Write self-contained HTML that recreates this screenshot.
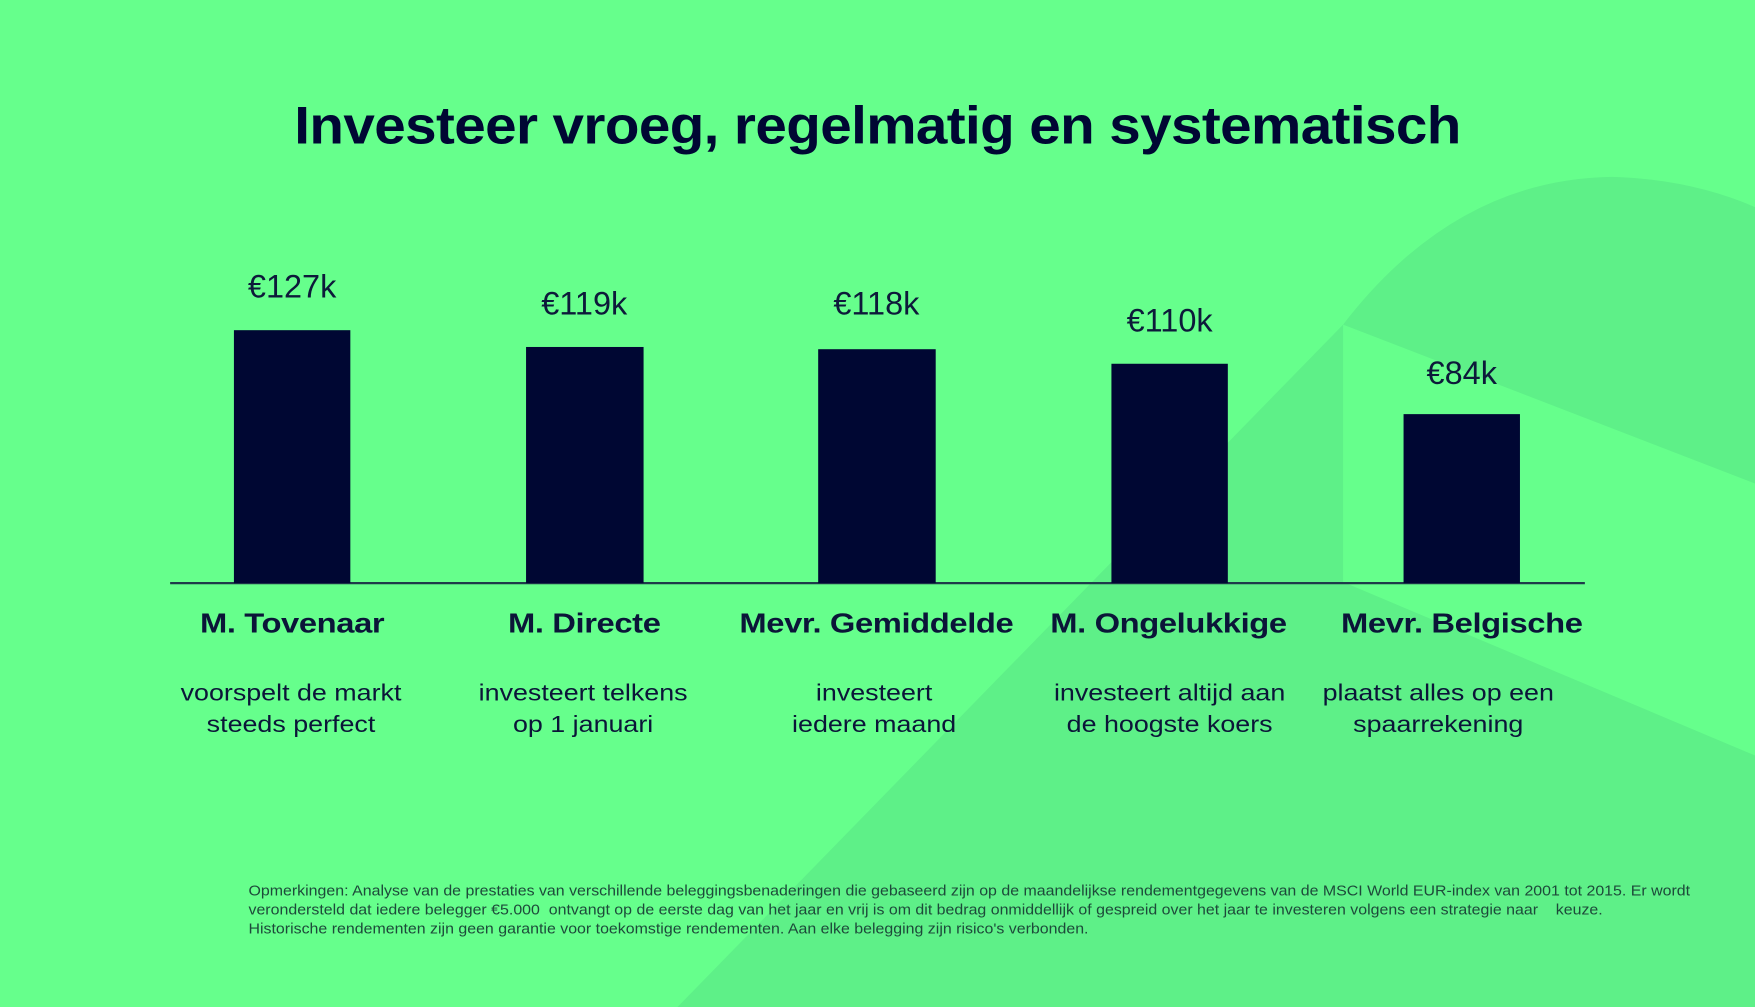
<!DOCTYPE html>
<html><head><meta charset="utf-8"><style>
html,body{margin:0;padding:0;width:1755px;height:1007px;overflow:hidden;background:#66ff8c}
#c{position:absolute;left:0;top:0;width:1568px;height:900px;transform:scale(1.11926);transform-origin:0 0;font-family:"Liberation Sans",sans-serif;color:#0b1538}
.bar{position:absolute;background:#000733;width:104px}
.v{position:absolute;width:200px;text-align:center;font-size:29px;color:#0d1a3a}
.n{position:absolute;width:300px;text-align:center;font-size:25px;font-weight:bold;top:543px;letter-spacing:-0.3px;transform:scaleX(1.17)}
.d{position:absolute;width:300px;text-align:center;font-size:20.5px;line-height:28px;top:606px;transform:scaleX(1.17)}
h1{position:absolute;left:0;width:1568px;top:84px;margin:0;text-align:center;font-size:47px;font-weight:bold;color:#000733;letter-spacing:-0.5px;transform:scaleX(1.076)}
.f{position:absolute;left:222px;top:787px;width:1300px;font-size:13px;line-height:17px;color:#1d4a3a;transform:scaleX(1.095);transform-origin:0 0;white-space:nowrap}
</style></head><body><div id="c">
<svg width="1568" height="900" style="position:absolute;left:0;top:0">
<path d="M605 900 L1200 290 Q1300 160 1440 158 Q1510 160 1568 185 L1568 900 Z" fill="#5ef088"/>
<path d="M1200 290 L1568 432 L1568 675 L1200 520 Z" fill="#66ff8c"/>
</svg>
<h1>Investeer vroeg, regelmatig en systematisch</h1>
<div style="position:absolute;left:152px;top:520px;width:1264px;height:2px;background:#1e3a4a"></div>
<div class="bar" style="left:209px;top:295px;height:226px"></div>
<div class="bar" style="left:470px;top:310px;height:211px;width:105px"></div>
<div class="bar" style="left:731px;top:312px;height:209px;width:105px"></div>
<div class="bar" style="left:993px;top:325px;height:196px"></div>
<div class="bar" style="left:1254px;top:370px;height:151px"></div>
<div class="v" style="left:161px;top:241px">€127k</div>
<div class="v" style="left:422px;top:256px">€119k</div>
<div class="v" style="left:683px;top:256px">€118k</div>
<div class="v" style="left:945px;top:271px">€110k</div>
<div class="v" style="left:1206px;top:318px">€84k</div>
<div class="n" style="left:111px">M. Tovenaar</div>
<div class="n" style="left:372px">M. Directe</div>
<div class="n" style="left:633px">Mevr. Gemiddelde</div>
<div class="n" style="left:894px">M. Ongelukkige</div>
<div class="n" style="left:1156px">Mevr. Belgische</div>
<div class="d" style="left:110px">voorspelt de markt<br>steeds perfect</div>
<div class="d" style="left:371px">investeert telkens<br>op 1 januari</div>
<div class="d" style="left:631px">investeert<br>iedere maand</div>
<div class="d" style="left:895px">investeert altijd aan<br>de hoogste koers</div>
<div class="d" style="left:1135px">plaatst alles op een<br>spaarrekening</div>
<div class="f">Opmerkingen: Analyse van de prestaties van verschillende beleggingsbenaderingen die gebaseerd zijn op de maandelijkse rendementgegevens van de MSCI World EUR-index van 2001 tot 2015. Er wordt<br>verondersteld dat iedere belegger €5.000&nbsp; ontvangt op de eerste dag van het jaar en vrij is om dit bedrag onmiddellijk of gespreid over het jaar te investeren volgens een strategie naar&nbsp;&nbsp;&nbsp; keuze.<br>Historische rendementen zijn geen garantie voor toekomstige rendementen. Aan elke belegging zijn risico's verbonden.</div>
</div></body></html>
